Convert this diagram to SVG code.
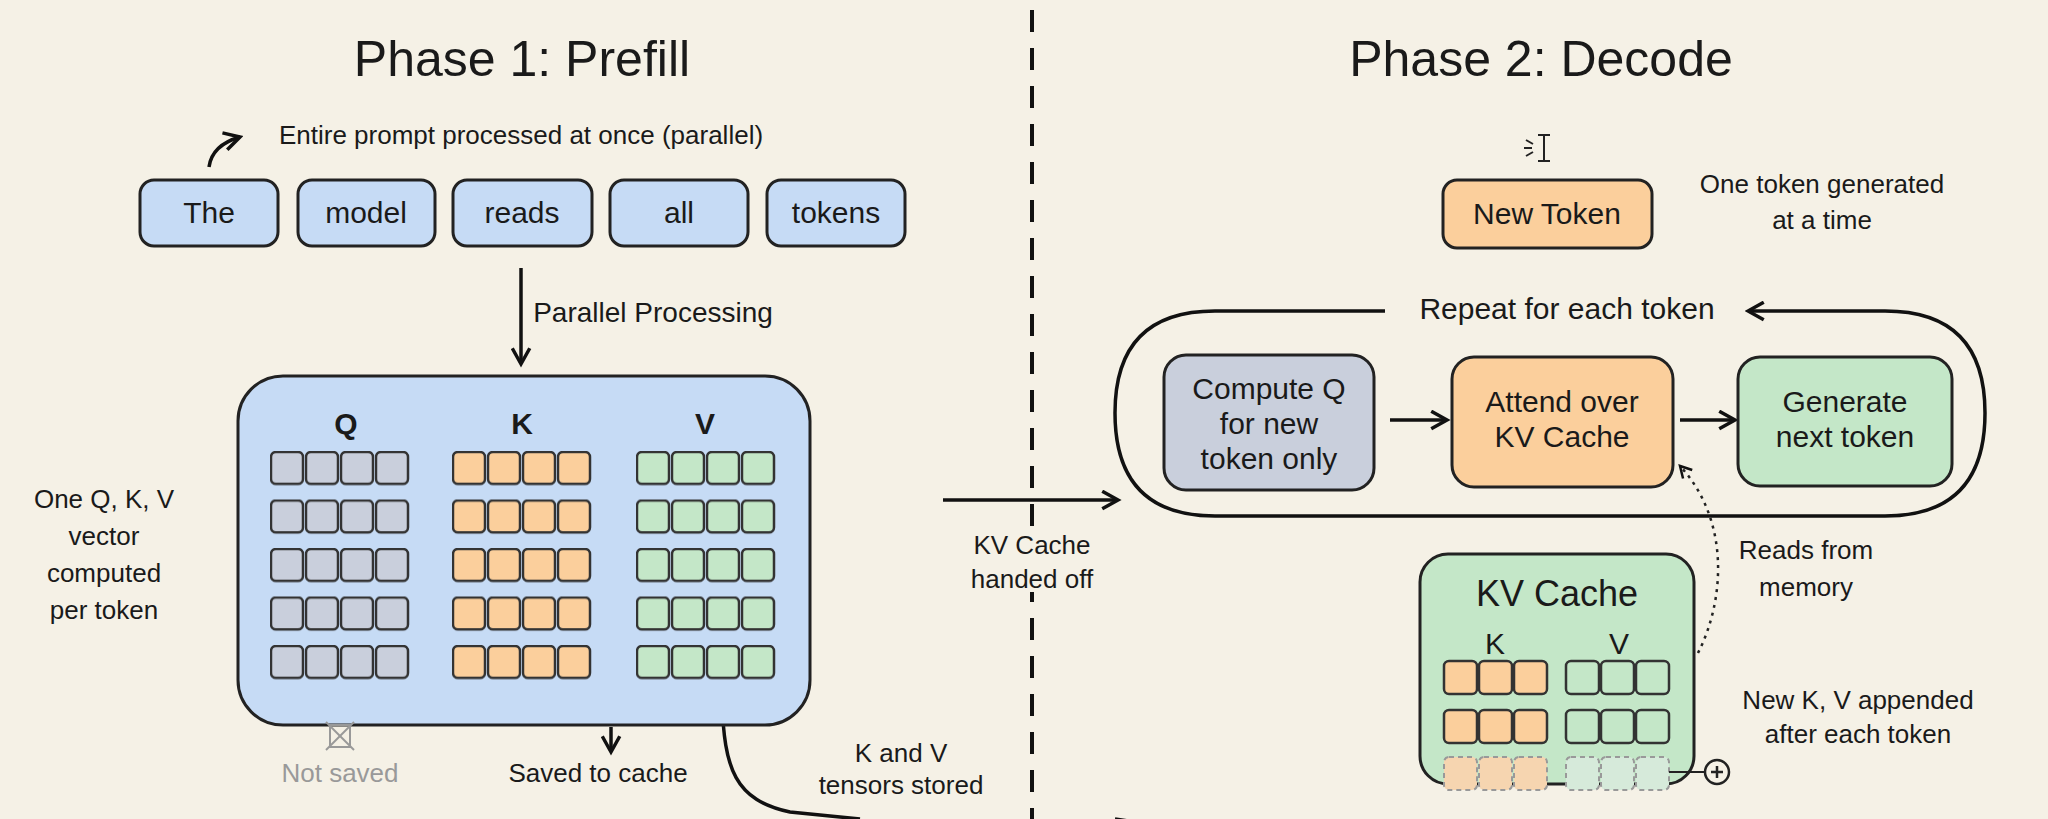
<svg xmlns="http://www.w3.org/2000/svg" width="2048" height="819" viewBox="0 0 2048 819">
<defs>
<style>
text{font-family:"Liberation Sans","DejaVu Sans",sans-serif;fill:#1a1a1a;text-anchor:middle}
.t{font-size:50px}
.l{font-size:26px}
.m{font-size:30px}
.box{stroke:#222;stroke-width:3}
.blue{fill:#c6dbf5}.gray{fill:#c9cfdc}.or{fill:#fbcf9c}.gr{fill:#c4e7c8}
.cell{stroke:#333;stroke-width:2.5}
.ln{stroke:#111;stroke-width:3.5;fill:none}
</style>
<marker id="ah" viewBox="0 0 12 12" refX="10" refY="6" markerWidth="6" markerHeight="6" orient="auto"><path d="M1,1 L10,6 L1,11" fill="none" stroke="#111" stroke-width="2"/></marker>
<pattern id="qc" x="270" y="451" width="35" height="48.5" patternUnits="userSpaceOnUse"><rect x="1" y="1" width="32" height="32" rx="5" class="cell gray"/></pattern>
<pattern id="kc" x="452" y="451" width="35" height="48.5" patternUnits="userSpaceOnUse"><rect x="1" y="1" width="32" height="32" rx="5" class="cell or"/></pattern>
<pattern id="vc" x="636" y="451" width="35" height="48.5" patternUnits="userSpaceOnUse"><rect x="1" y="1" width="32" height="32" rx="5" class="cell gr"/></pattern>
</defs>
<rect width="2048" height="819" fill="#f5f1e6"/>
<text class="t" x="522" y="76">Phase 1: Prefill</text>
<text class="t" x="1541" y="76">Phase 2: Decode</text>
<line x1="1032" y1="10" x2="1032" y2="819" stroke="#111" stroke-width="4" stroke-dasharray="22,16"/>

<g id="connectors">
<path class="ln" stroke-width="2" d="M209,167 Q212,145 240,137" marker-end="url(#ah)"/>
<line class="ln" x1="521" y1="268" x2="521" y2="364" marker-end="url(#ah)"/>
<line class="ln" stroke-width="2.5" x1="611" y1="727" x2="611" y2="752" marker-end="url(#ah)"/>
<path class="ln" d="M722,699 C724,770 735,800 790,812 L860,819 M1115,819 L1135,822"/>
<line class="ln" stroke-width="5" x1="943" y1="500" x2="1118" y2="500" marker-end="url(#ah)"/>
<line class="ln" x1="1390" y1="420" x2="1447" y2="420" marker-end="url(#ah)"/>
<line class="ln" x1="1680" y1="420" x2="1735" y2="420" marker-end="url(#ah)"/>
<path d="M1698,653 C1725,600 1730,520 1680,466" fill="none" stroke="#222" stroke-width="2.5" stroke-dasharray="3,5" marker-end="url(#ah)"/>
<path class="ln" stroke-width="3" d="M1385,311 L1215,311 Q1115,311 1115,413 Q1115,516 1215,516 L1885,516 Q1985,516 1985,413 Q1985,311 1885,311 L1748,311" marker-end="url(#ah)"/>
</g>
<text x="521" y="144" style="font-size:26px">Entire prompt processed at once (parallel)</text>
<text x="653" y="322" style="font-size:28px">Parallel Processing</text>
<text x="1567" y="319" style="font-size:30px">Repeat for each token</text>

<g id="tokens">
<rect class="box blue" x="140" y="180" width="138" height="66" rx="14"/><text class="m" x="209" y="223">The</text>
<rect class="box blue" x="298" y="180" width="137" height="66" rx="14"/><text class="m" x="366" y="223">model</text>
<rect class="box blue" x="453" y="180" width="139" height="66" rx="14"/><text class="m" x="522" y="223">reads</text>
<rect class="box blue" x="610" y="180" width="138" height="66" rx="14"/><text class="m" x="679" y="223">all</text>
<rect class="box blue" x="767" y="180" width="138" height="66" rx="14"/><text class="m" x="836" y="223">tokens</text>
</g>

<g id="qkv">
<rect class="box blue" x="238" y="376" width="572" height="349" rx="45"/>
<text class="m" x="346" y="434" style="font-weight:bold">Q</text>
<text class="m" x="522" y="434" style="font-weight:bold">K</text>
<text class="m" x="705" y="434" style="font-weight:bold">V</text>
<rect x="270" y="451" width="140" height="230" fill="url(#qc)"/>
<rect x="452" y="451" width="140" height="230" fill="url(#kc)"/>
<rect x="636" y="451" width="140" height="230" fill="url(#vc)"/>
</g>
<g id="notes1">
<text x="104" y="508" class="l">One Q, K, V</text>
<text x="104" y="545" class="l">vector</text>
<text x="104" y="582" class="l">computed</text>
<text x="104" y="619" class="l">per token</text>
<g stroke="#999" stroke-width="2" fill="none"><rect x="330" y="725" width="20" height="22"/><line x1="326" y1="722" x2="354" y2="750"/><line x1="354" y1="722" x2="326" y2="750"/></g>
<text x="340" y="782" class="l" style="fill:#999">Not saved</text>
<text x="598" y="782" class="l">Saved to cache</text>
<text x="901" y="762" class="l">K and V</text>
<text x="901" y="794" class="l">tensors stored</text>
<rect x="960" y="530" width="145" height="62" fill="#f5f1e6"/>
<text x="1032" y="554" class="l">KV Cache</text>
<text x="1032" y="588" class="l">handed off</text>
</g>

<g id="newtoken">
<g stroke="#222" stroke-width="2" fill="none"><path d="M1538,135 L1550,135 M1544,135 L1544,161 M1538,161 L1550,161 M1526,140 L1533,144 M1524,148 L1532,148 M1526,156 L1533,152"/></g>
<rect class="box or" x="1443" y="180" width="209" height="68" rx="14"/><text class="m" x="1547" y="224">New Token</text>
<text class="l" x="1822" y="193">One token generated</text>
<text class="l" x="1822" y="229">at a time</text>
</g>
<g id="computeq"><rect class="box gray" x="1164" y="355" width="210" height="135" rx="22"/>
<text class="m" x="1269" y="399">Compute Q</text><text class="m" x="1269" y="434">for new</text><text class="m" x="1269" y="469">token only</text></g>
<g id="attend"><rect class="box or" x="1452" y="357" width="221" height="130" rx="22"/>
<text class="m" x="1562" y="412">Attend over</text><text class="m" x="1562" y="447">KV Cache</text></g>
<g id="generate"><rect class="box gr" x="1738" y="357" width="214" height="129" rx="22"/>
<text class="m" x="1845" y="412">Generate</text><text class="m" x="1845" y="447">next token</text></g>

<g id="kvcache">
<rect class="box gr" x="1420" y="554" width="274" height="230" rx="28"/>
<text x="1557" y="606" style="font-size:36px">KV Cache</text>
<text class="m" x="1495" y="654">K</text><text class="m" x="1619" y="654">V</text>
<g class="cell or"><rect x="1444" y="661" width="33" height="33" rx="5"/><rect x="1479" y="661" width="33" height="33" rx="5"/><rect x="1514" y="661" width="33" height="33" rx="5"/>
<rect x="1444" y="710" width="33" height="33" rx="5"/><rect x="1479" y="710" width="33" height="33" rx="5"/><rect x="1514" y="710" width="33" height="33" rx="5"/></g>
<g class="cell gr"><rect x="1566" y="661" width="33" height="33" rx="5"/><rect x="1601" y="661" width="33" height="33" rx="5"/><rect x="1636" y="661" width="33" height="33" rx="5"/>
<rect x="1566" y="710" width="33" height="33" rx="5"/><rect x="1601" y="710" width="33" height="33" rx="5"/><rect x="1636" y="710" width="33" height="33" rx="5"/></g>
<g stroke="#999" stroke-width="2" stroke-dasharray="5,4"><rect x="1444" y="757" width="33" height="33" rx="5" fill="#f6d5b0"/><rect x="1479" y="757" width="33" height="33" rx="5" fill="#f6d5b0"/><rect x="1514" y="757" width="33" height="33" rx="5" fill="#f6d5b0"/>
<rect x="1566" y="757" width="33" height="33" rx="5" fill="#d6eada"/><rect x="1601" y="757" width="33" height="33" rx="5" fill="#d6eada"/><rect x="1636" y="757" width="33" height="33" rx="5" fill="#d6eada"/></g>
<line x1="1669" y1="772" x2="1705" y2="772" stroke="#222" stroke-width="2"/>
<circle cx="1717" cy="772" r="12" fill="none" stroke="#222" stroke-width="2.5"/>
<path d="M1711,772 H1723 M1717,766 V778" stroke="#222" stroke-width="2.5"/>
</g>
<text class="l" x="1806" y="559">Reads from</text>
<text class="l" x="1806" y="596">memory</text>
<text class="l" x="1858" y="709">New K, V appended</text>
<text class="l" x="1858" y="743">after each token</text>
</svg>
